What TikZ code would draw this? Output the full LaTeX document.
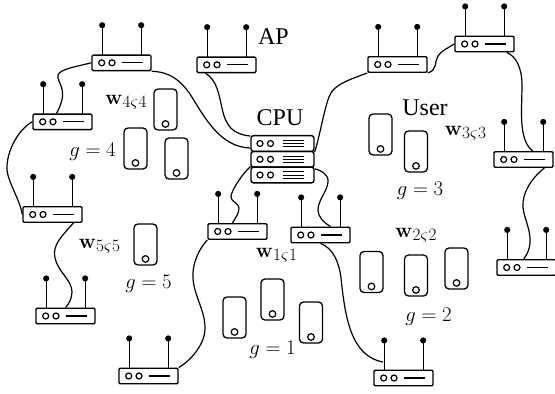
\documentclass[tikz,border=0pt]{standalone}
\usepackage{amsmath,amssymb}
\usepackage[no-math]{fontspec}
\setmainfont{Liberation Serif}
\usepackage{tikz}
\usetikzlibrary{arrows.meta, calc}

\tikzset{
  router/.style={draw, line width=1.4pt, rounded corners=1.2pt, minimum width=59pt, minimum height=15.5pt, inner sep=0pt},
  rack/.style={draw, line width=1.4pt, rounded corners=2.5pt, minimum width=63pt, minimum height=15.7pt, inner sep=0pt},
  handset/.style={draw, line width=1.3pt, rounded corners=4pt, minimum width=23pt, minimum height=41pt, inner sep=0pt},
  aerial/.style={line width=1.3pt, -{Circle[length=6pt]}},
  cable/.style={line width=1.2pt},
  bigtext/.style={font=\fontsize{24}{24}\selectfont, inner sep=0pt},
  mathtext/.style={font=\fontsize{21}{21}\selectfont, inner sep=0pt}
}

% access point: name, centre x, centre y
\newcommand{\accesspoint}[3]{
  \begin{scope}[shift={(#2,#3)}]
    \node[router] (#1) at (0,0) {};
    \draw[aerial] (-19.3,-7.75) -- (-19.3,-40.6);
    \draw[aerial] (19.7,-7.75) -- (19.7,-40.6);
    \draw[line width=1.2pt] (-19.8,0) circle (3);
    \draw[line width=1.2pt] (-9.5,0) circle (3);
    \draw[line width=1.2pt] (0.8,0) -- (21.8,0);
  \end{scope}
}

% one layer of the server stack: name, centre y
\newcommand{\cpulayer}[2]{
  \begin{scope}[shift={(282.5,#2)}]
    \node[rack] (#1) at (0,0) {};
    \draw[line width=1.2pt] (-22.5,0) circle (3);
    \draw[line width=1.2pt] (-12,0) circle (3);
    \foreach \d in {-3.3,0,3.3}
      \draw[line width=1pt] (0,\d) -- (21.5,\d);
  \end{scope}
}

% precoder label, same digit twice
\newcommand{\wlabel}[1]{$\mathbf{w}$\raisebox{-3pt}{\fontsize{16.5}{16.5}\selectfont$#1\varsigma\kern0.5pt#1$}}

\begin{document}
\begin{tikzpicture}[x=1pt, y=-1pt]
  \useasboundingbox (0,0) rectangle (555,394);

  % Access points
  \accesspoint{apA}{121.5}{62.8}
  \accesspoint{apB}{226.5}{64.8}
  \accesspoint{apC}{62.5}{121.8}
  \accesspoint{apD}{52.5}{214.5}
  \accesspoint{apE}{65.5}{316}
  \accesspoint{apF}{148.5}{376}
  \accesspoint{apG}{237.5}{231.5}
  \accesspoint{apH}{320.5}{235}
  \accesspoint{apI}{403.5}{378}
  \accesspoint{apJ}{526.5}{267.5}
  \accesspoint{apK}{523.5}{159.5}
  \accesspoint{apL}{484.5}{44}
  \accesspoint{apM}{397.5}{64.5}

  % Central unit
  \cpulayer{cpuA}{143.5}
  \cpulayer{cpuB}{159.3}
  \cpulayer{cpuC}{175}

  % Users
  \foreach \u/\px/\py in {uA/165.5/109.5, uB/135.5/148.5, uC/176.5/158.5,
                          uD/145.5/244.5, uE/234.5/317.5, uF/272.5/299.5, uG/311/322.5,
                          uH/371.5/272, uI/416/275.5, uJ/456.5/268.5,
                          uK/380.5/134.5, uL/416/151.5} {
    \node[handset] (\u) at (\px,\py) {};
    \draw[line width=1.2pt] ($(\u.south)+(0,-6.7)$) circle (3.3);
  }

  % Backhaul
  \draw[cable] (apA.west) .. controls (70,68) and (56,70) .. (58,78)
    .. controls (60,86) and (68,92) .. (apC.125);
  \draw[cable] (apA.south east) .. controls (170,72) and (180,80) .. (190,94)
    .. controls (205,118) and (220,147) .. (cpuA.188);
  \draw[cable] (apB.202) .. controls (217,80) and (219,95) .. (222,108)
    .. controls (226,127) and (233,134) .. (cpuA.167);
  \draw[cable] (apC.west) .. controls (20,128) and (6,150) .. (7,170)
    .. controls (8,182) and (20,200) .. (apD.west);
  \draw[cable] (apD.338) .. controls (62,236) and (52,245) .. (55,258)
    .. controls (58,272) and (72,280) .. (72,292) .. controls (72,298) and (69,304) .. (apE.north);
  \draw[cable] (apG.south west) .. controls (198,250) and (192,265) .. (193,278)
    .. controls (194,296) and (205,310) .. (205,328) .. controls (205,345) and (190,361) .. (apF.north east);
  \draw[cable] (cpuC.165) .. controls (244,172) and (231,190) .. (231,197)
    .. controls (231,202) and (239,203) .. (239,208) .. controls (239,213) and (236,217) .. (apG.121);
  \draw[cable] (cpuC.11) .. controls (320,170) and (329,174) .. (328,182)
    .. controls (327,192) and (318,200) .. (318,210) .. controls (318,217) and (324,223) .. (apH.40);
  \coordinate (apIin) at (383,362);
  \draw[cable] (apH.south) .. controls (333,248) and (339,262) .. (341,278)
    .. controls (345,315) and (350,356) .. (apIin);
  \draw[cable] (cpuA.south east) .. controls (320,135) and (324,110) .. (329,97)
    .. controls (333,84) and (352,79) .. (apM.south west);
  \draw[cable] (apM.south east) .. controls (438,70) and (434,62) .. (438,56)
    .. controls (441,51) and (448,48) .. (apL.west);
  \draw[cable] (apL.339) .. controls (516,56) and (522,68) .. (522,85)
    .. controls (522,110) and (518,140) .. (apK.42);
  \draw[cable] (apK.338) .. controls (532,178) and (522,192) .. (523,207)
    .. controls (524,222) and (538,240) .. (apJ.108);

  % Labels
  \node[bigtext] (lblAP) at (273.5,37) {AP};
  \node[bigtext] (lblCPU) at (280,118) {CPU};
  \node[bigtext] (lblUser) at (425,108) {User};
  \node[mathtext] (wD) at (126,102) {\wlabel{4}};
  \node[mathtext] (wC) at (465.5,133) {\wlabel{3}};
  \node[mathtext] (wE) at (99.5,246) {\wlabel{5}};
  \node[mathtext] (wA) at (276.5,255) {\wlabel{1}};
  \node[mathtext] (wB) at (416,235) {\wlabel{2}};
  \node[mathtext] (gD) at (92.5,152) {$g=4$};
  \node[mathtext] (gC) at (420,191) {$g=3$};
  \node[mathtext] (gE) at (148.5,284) {$g=5$};
  \node[mathtext] (gA) at (272.5,350) {$g=1$};
  \node[mathtext] (gB) at (428.5,317) {$g=2$};
\end{tikzpicture}
\end{document}
